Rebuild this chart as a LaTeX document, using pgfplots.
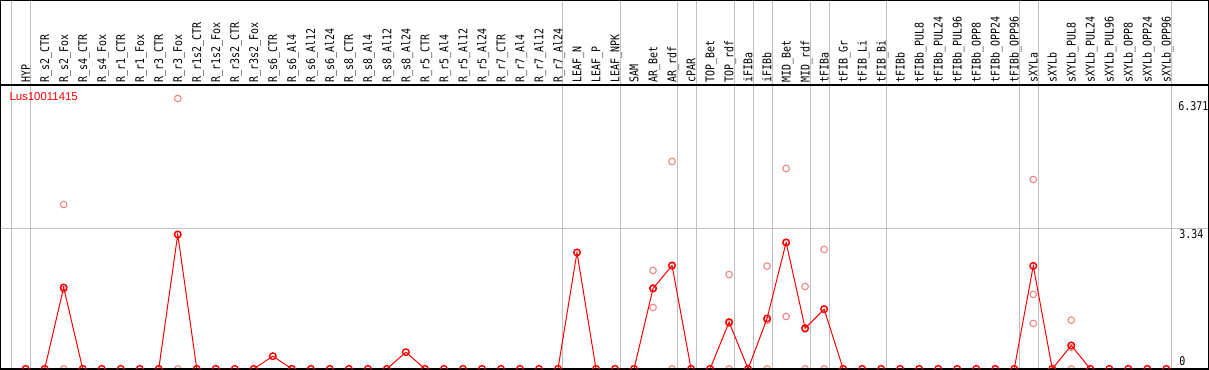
\documentclass[border=0pt]{standalone}
\usepackage{pgfplots}
\pgfplotsset{compat=1.18}
\usepackage{pgfplotstable}
\usepackage{fontspec}
\setmainfont{Liberation Sans}
\newfontfamily\hdr[FakeStretch=0.83]{DejaVu Sans Mono}
\definecolor{sep}{RGB}{192,192,192}
\definecolor{rep}{RGB}{234,136,136}

\pgfplotstableread{
x y
1 0
2 0
3 1.936
4 0
5 0
6 0
7 0
8 0
9 3.197
10 0
11 0
12 0
13 0
14 0.302
15 0
16 0
17 0
18 0
19 0
20 0
21 0.397
22 0
23 0
24 0
25 0
26 0
27 0
28 0
29 0
30 2.769
31 0
32 0
33 0
34 1.912
35 2.460
36 0
37 0
38 1.111
39 0
40 1.199
41 3.007
42 0.968
43 1.420
44 0
45 0
46 0
47 0
48 0
49 0
50 0
51 0
52 0
53 0
54 2.450
55 0
56 0.557
57 0
58 0
59 0
60 0
61 0
}\main

\pgfplotstableread{
x y
3 3.911
3 1.89
3 0
9 6.432
9 3.20
9 0
34 2.341
34 1.461
34 1.93
35 4.933
35 2.447
35 0
38 2.245
38 1.088
38 0
40 2.443
40 1.154
40 0
41 4.767
41 1.246
41 3.008
42 1.960
42 0.944
42 0
43 2.840
43 1.42
43 0
54 4.505
54 1.770
54 1.080
56 1.158
56 0.513
56 0
}\reps

\pgfplotstableread{
x y label
1 6.80 HYP
2 6.80 R\_s2\_CTR
3 6.80 R\_s2\_Fox
4 6.80 R\_s4\_CTR
5 6.80 R\_s4\_Fox
6 6.80 R\_r1\_CTR
7 6.80 R\_r1\_Fox
8 6.80 R\_r3\_CTR
9 6.80 R\_r3\_Fox
10 6.80 R\_r1s2\_CTR
11 6.80 R\_r1s2\_Fox
12 6.80 R\_r3s2\_CTR
13 6.80 R\_r3s2\_Fox
14 6.80 R\_s6\_CTR
15 6.80 R\_s6\_Al4
16 6.80 R\_s6\_Al12
17 6.80 R\_s6\_Al24
18 6.80 R\_s8\_CTR
19 6.80 R\_s8\_Al4
20 6.80 R\_s8\_Al12
21 6.80 R\_s8\_Al24
22 6.80 R\_r5\_CTR
23 6.80 R\_r5\_Al4
24 6.80 R\_r5\_Al12
25 6.80 R\_r5\_Al24
26 6.80 R\_r7\_CTR
27 6.80 R\_r7\_Al4
28 6.80 R\_r7\_Al12
29 6.80 R\_r7\_Al24
30 6.80 LEAF\_N
31 6.80 LEAF\_P
32 6.80 LEAF\_NPK
33 6.80 SAM
34 6.80 AR\_Bet
35 6.80 AR\_rdf
36 6.80 cPAR
37 6.80 TOP\_Bet
38 6.80 TOP\_rdf
39 6.80 iFIBa
40 6.80 iFIBb
41 6.80 MID\_Bet
42 6.80 MID\_rdf
43 6.80 tFIBa
44 6.80 tFIB\_Gr
45 6.80 tFIB\_Li
46 6.80 tFIB\_Bi
47 6.80 tFIBb
48 6.80 tFIBb\_PUL8
49 6.80 tFIBb\_PUL24
50 6.80 tFIBb\_PUL96
51 6.80 tFIBb\_OPP8
52 6.80 tFIBb\_OPP24
53 6.80 tFIBb\_OPP96
54 6.80 sXYLa
55 6.80 sXYLb
56 6.80 sXYLb\_PUL8
57 6.80 sXYLb\_PUL24
58 6.80 sXYLb\_PUL96
59 6.80 sXYLb\_OPP8
60 6.80 sXYLb\_OPP24
61 6.80 sXYLb\_OPP96
}\labels

\begin{document}
\begin{tikzpicture}
\begin{axis}[
  at={(0,0)}, anchor=south west,
  scale only axis, width=1207pt, height=368pt,
  xmin=-0.3158, xmax=63.21, ymin=0, ymax=8.76,
  axis line style={black, line width=1.3pt},
  xtick={0.263,1.263,29.263,32.263,35.263,36.263,38.263,39.263,40.263,42.263,43.263,46.263,53.263,54.263,61.263},
  xticklabels={}, xmajorgrids,
  ytick={3.34}, yticklabels={}, ymajorgrids,
  xticklabel style={overlay}, yticklabel style={overlay},
  grid style={sep, line width=1pt},
  major tick length=0pt,
  clip marker paths=true,
]
% header labels
\addplot[draw=none, mark=none, nodes near coords, point meta=explicit symbolic,
  every node near coord/.append style={rotate=90, anchor=west, inner sep=0pt,
    font=\hdr\fontsize{12}{12}\selectfont, text height=8.75pt, text depth=0pt, text=black}]
  table[x=x, y=y, meta=label] {\labels};
% header separator line
\addplot[black, line width=1.3pt, mark=none] coordinates {(-0.3158,6.75) (63.21,6.75)};
% replicates
\addplot[only marks, mark=o, mark size=3.3pt, rep, line width=1.1pt] table[x=x, y=y] {\reps};
% main line
\addplot[red, line width=1pt, mark=none] table[x=x, y=y] {\main};
% bottom axis line redrawn over the zero segments
\addplot[black, line width=1.3pt, mark=none] coordinates {(-0.3158,0) (63.21,0)};
% main marks
\addplot[only marks, mark=o, mark size=3.3pt, red, line width=1.4pt] table[x=x, y=y] {\main};
% gene name
\node[anchor=base west, inner sep=0pt, text=red, font=\fontsize{11.4}{11.4}\selectfont] at (axis cs:0.14,6.38) {Lus10011415};
% value labels
\node[anchor=north west, inner sep=0pt, font=\hdr\fontsize{12}{12}\selectfont, text height=8.75pt, text depth=0pt] at (axis cs:61.62,6.371) {6.371};
\node[anchor=north west, inner sep=0pt, yshift=-0.7pt, font=\hdr\fontsize{12}{12}\selectfont, text height=8.75pt, text depth=0pt] at (axis cs:61.68,3.34) {3.34};
\node[anchor=south west, inner sep=0pt, yshift=2.7pt, font=\hdr\fontsize{12}{12}\selectfont, text height=8.75pt, text depth=0pt] at (axis cs:61.68,0) {0};
\end{axis}
\end{tikzpicture}
\end{document}
